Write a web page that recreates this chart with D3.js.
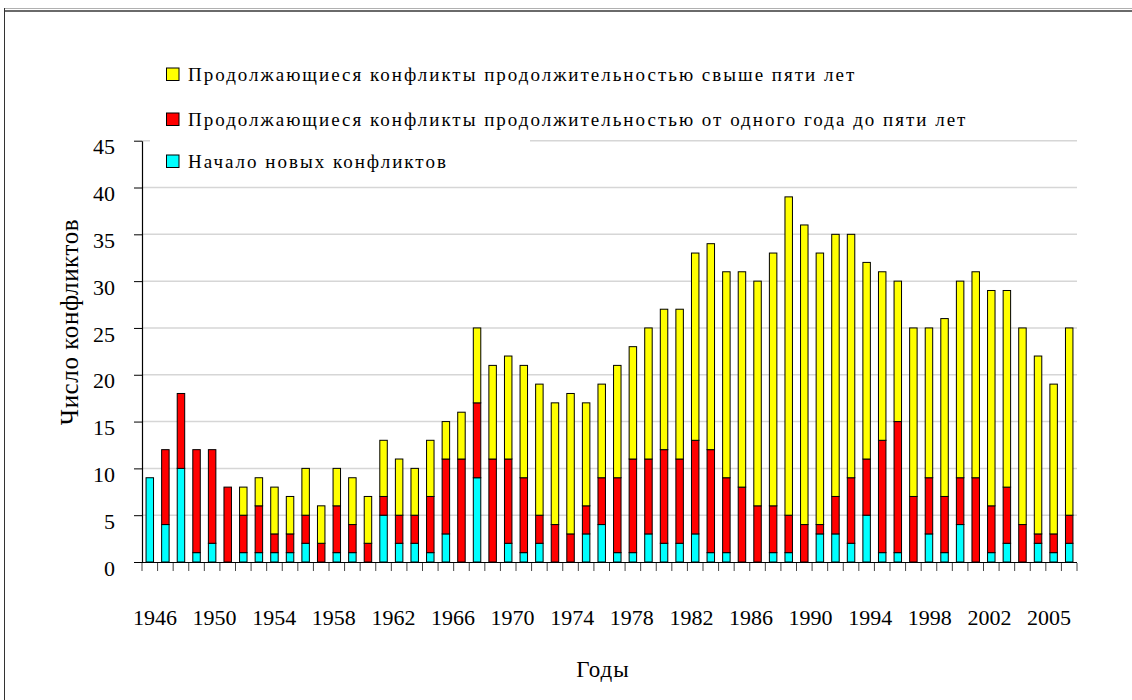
<!DOCTYPE html>
<html>
<head>
<meta charset="utf-8">
<script src="https://cdn.jsdelivr.net/npm/d3@7"></script>
<style>
  html, body { margin: 0; padding: 0; background: #fff; }
  svg { display: block; }
  text { font-family: "Liberation Serif", "Times New Roman", "DejaVu Serif", serif; fill: #000; }
</style>
</head>
<body>
<svg id="chart" width="1132" height="700"></svg>
<script>
const years = [1946,1947,1948,1949,1950,1951,1952,1953,1954,1955,1956,1957,1958,1959,1960,
  1961,1962,1963,1964,1965,1966,1967,1968,1969,1970,1971,1972,1973,1974,1975,
  1976,1977,1978,1979,1980,1981,1982,1983,1984,1985,1986,1987,1988,1989,1990,
  1991,1992,1993,1994,1995,1996,1997,1998,1999,2000,2001,2002,2003,2004,2005];

// Начало новых конфликтов
const newConflicts = [9,4,10,1,2,0,1,1,1,1,2,0,1,1,0,
  5,2,2,1,3,0,9,0,2,1,2,0,0,3,4,
  1,1,3,2,2,3,1,1,0,0,1,1,0,3,3,
  2,5,1,1,0,3,1,4,0,1,2,0,2,1,2];

// Продолжающиеся конфликты продолжительностью от одного года до пяти лет
const oneToFive = [0,8,8,11,10,8,4,5,2,2,3,2,5,3,2,
  2,3,3,6,8,11,8,11,9,8,3,4,3,3,5,
  8,10,8,10,9,10,11,8,8,6,5,4,4,1,4,
  7,6,12,14,7,6,6,5,9,5,6,4,1,2,3];

// Продолжающиеся конфликты продолжительностью свыше пяти лет
const overFive = [0,0,0,0,0,0,3,3,5,4,5,4,4,5,5,
  6,6,5,6,4,5,8,10,11,12,14,13,15,11,10,
  12,12,14,15,16,20,22,22,23,24,27,34,32,29,28,
  26,21,18,15,18,16,19,21,22,23,21,21,19,16,20];

const seriesKeys = ["newConflicts", "oneToFive", "overFive"];
const seriesColors = ["#00FFFF", "#FF0000", "#FFFF00"];
const legendLabels = [
  "Продолжающиеся конфликты продолжительностью свыше пяти лет",
  "Продолжающиеся конфликты продолжительностью от одного года до пяти лет",
  "Начало новых конфликтов"
];
const legendColors = ["#FFFF00", "#FF0000", "#00FFFF"];
const yTicks = [0,5,10,15,20,25,30,35,40,45];
const xLabels = ["1946","1950","1954","1958","1962","1966","1970","1974","1978","1982","1986","1990","1994","1998","2002","2005"];
const yTitle = "Число конфликтов";
const xTitle = "Годы";

const svg = d3.select("#chart");

// frame
svg.append("rect").attr("x",0).attr("y",0).attr("width",1132).attr("height",700).attr("fill","#fff");
svg.append("line").attr("x1",4).attr("x2",1132).attr("y1",8.5).attr("y2",8.5).attr("stroke","#b0b0b0").attr("stroke-width",1);
svg.append("line").attr("x1",4).attr("x2",1132).attr("y1",11).attr("y2",11).attr("stroke","#6a6a6a").attr("stroke-width",2);
svg.append("line").attr("x1",4.5).attr("x2",4.5).attr("y1",8).attr("y2",700).attr("stroke","#333").attr("stroke-width",1);

const x = d3.scaleBand().domain(years).range([142, 1077]).paddingInner(0.52).paddingOuter(0.26);
const y = d3.scaleLinear().domain([0, 45]).range([562, 140.7]);

const data = years.map((yr, i) => ({year: yr, newConflicts: newConflicts[i], oneToFive: oneToFive[i], overFive: overFive[i]}));
const stacked = d3.stack().keys(seriesKeys)(data);

// gridlines
svg.append("g").selectAll("line").data(yTicks.filter(d => d > 0)).join("line")
  .attr("x1", 142).attr("x2", 1077)
  .attr("y1", d => y(d)).attr("y2", d => y(d))
  .attr("stroke", "#d6d6d6").attr("stroke-width", 1.5);

// legend white box (covers part of top gridline)
svg.append("rect").attr("x",150).attr("y",50).attr("width",380).attr("height",95).attr("fill","#fff");

// bars
svg.append("g").selectAll("g").data(stacked).join("g")
  .attr("fill", (d, i) => seriesColors[i])
  .selectAll("rect").data(d => d).join("rect")
  .attr("x", d => x(d.data.year))
  .attr("width", x.bandwidth())
  .attr("y", d => y(d[1]))
  .attr("height", d => y(d[0]) - y(d[1]))
  .attr("stroke", "#000").attr("stroke-width", 1);

// y axis
const yAxis = svg.append("g").attr("transform", "translate(142,0)")
  .call(d3.axisLeft(y).tickValues(yTicks).tickSize(8).tickPadding(19).tickSizeOuter(0));
yAxis.select(".domain").attr("stroke", "#000").attr("stroke-width", 1.2);
yAxis.selectAll(".tick line").attr("stroke", "#000");
yAxis.selectAll(".tick text").attr("font-size", 22).attr("dy", "0.6em")
  .style("font-family", "'Liberation Serif', 'Times New Roman', 'DejaVu Serif', serif");

// x axis line + ticks at band boundaries
const half = (x.step() - x.bandwidth()) / 2;
const bounds = years.map(d => x(d) - half).concat([x.range()[1]]);
svg.append("line").attr("x1", 142).attr("x2", 1077).attr("y1", 562.5).attr("y2", 562.5)
  .attr("stroke", "#000").attr("stroke-width", 1.2);
svg.append("g").selectAll("line").data(bounds).join("line")
  .attr("x1", d => d).attr("x2", d => d)
  .attr("y1", 563).attr("y2", 571)
  .attr("stroke", "#444").attr("stroke-width", 1);

// x labels (evenly spaced row)
const xl = d3.scalePoint().domain(xLabels).range([155, 1049]);
svg.append("g").selectAll("text").data(xLabels).join("text")
  .attr("x", d => xl(d)).attr("y", 625)
  .attr("text-anchor", "middle").attr("font-size", 22)
  .text(d => d);

// titles
svg.append("text").attr("transform", "translate(78,322) rotate(-90)")
  .attr("text-anchor", "middle").attr("font-size", 25).attr("letter-spacing", 0.6).text(yTitle);
svg.append("text").attr("x", 603).attr("y", 677)
  .attr("text-anchor", "middle").attr("font-size", 23).attr("letter-spacing", 1).text(xTitle);

// legend
const legendY = [81, 126, 168];
const lg = svg.append("g").selectAll("g").data(legendLabels).join("g")
  .attr("transform", (d, i) => `translate(0,${legendY[i]})`);
lg.append("rect").attr("x", 166.5).attr("y", -13).attr("width", 12.5).attr("height", 12.5)
  .attr("fill", (d, i) => legendColors[i]).attr("stroke", "#000").attr("stroke-width", 1);
lg.append("text").attr("x", 188).attr("y", 0).attr("font-size", 19).attr("letter-spacing", 2).text(d => d);
</script>
</body>
</html>
